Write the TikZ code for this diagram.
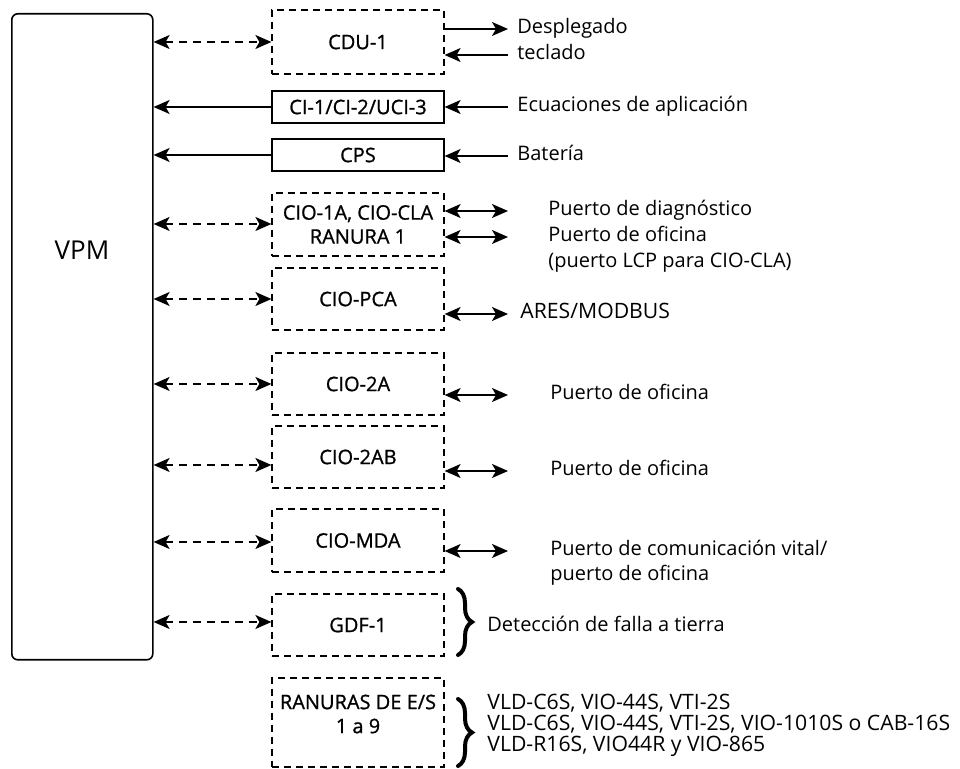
\documentclass[tikz,border=0pt]{standalone}
\usepackage{fontspec}
\setmainfont{Open Sans}
\newfontfamily\boxfont{Open Sans}[FakeBold=1]
\usetikzlibrary{arrows.meta,decorations.pathreplacing}
\tikzset{
  card/.style={draw,line width=0.6pt,minimum width=86pt,inner sep=0pt,align=center,font=\boxfont},
  dcard/.style={card,dash pattern=on 3.5pt off 2.5pt},
  tipx/.tip={Stealth[length=8pt,width=7pt,inset=2pt]},
  link/.style={line width=0.75pt,-tipx},
  blink/.style={line width=0.75pt,tipx-tipx},
  dlink/.style={blink,dash pattern=on 4pt off 3pt},
  txt/.style={anchor=west,inner sep=0pt,text height=7.5pt,text depth=2.5pt},
  caps/.style={txt,font=\fontsize{10.6}{12}\selectfont},
  curly/.style={decorate,decoration={brace,amplitude=7pt},line width=2pt,line cap=round}
}
\begin{document}
\begin{tikzpicture}[x=0.5pt,y=-0.5pt]
\useasboundingbox (0,0) rectangle (960,769);
% coordinates
\coordinate (tip) at (508,0);%
% main unit
\node[draw,line width=0.8pt,rounded corners=3pt,minimum width=70.5pt,minimum height=323pt,anchor=north west] (vpm) at (11,13) {};
\node[font=\fontsize{13}{15}\selectfont] (vpmtxt) at (82,250) {VPM};
% boards
\node[dcard,minimum height=32pt]   (cdu) at (358,42)    {CDU-1};
\node[card,minimum height=16pt]    (ci)  at (358,107)   {CI-1/CI-2/UCI-3};
\node[card,minimum height=16pt]    (cps) at (358,155)   {CPS};
\node[dcard,minimum height=31.5pt] (cla) at (358,224.5) {CIO-1A, CIO-CLA\\RANURA 1};
\node[dcard,minimum height=31pt]   (pca) at (358,299)   {CIO-PCA};
\node[dcard,minimum height=31pt]   (c2a) at (358,384)   {CIO-2A};
\node[dcard,minimum height=31pt]   (c2b) at (358,457)   {CIO-2AB};
\node[dcard,minimum height=31.5pt] (mda) at (358,540.5) {CIO-MDA};
\node[dcard,minimum height=31pt]   (gdf) at (358,625)   {GDF-1};
\node[dcard,minimum height=44.5pt] (ran) at (358,722.5) {};
\node[font=\boxfont,align=center] (rantxt) at (358,714) {RANURAS DE E/S\\1 a 9};
% texts
\node[txt] (dsp)  at (517,29)  {Desplegado};
\node[txt] (tec)  at (517,55)  {teclado};
\node[txt] (ecu)  at (517,107) {Ecuaciones de aplicación};
\node[txt] (bat)  at (517,156) {Batería};
\node[txt] (diag) at (548,211) {Puerto de diagnóstico};
\node[txt] (ofi1) at (548,237) {Puerto de oficina};
\node[txt] (lcp)  at (548,263) {(puerto LCP para CIO-CLA)};
\node[caps] (ares) at (520,314) {ARES/MODBUS};
\node[txt] (ofi2) at (550,395) {Puerto de oficina};
\node[txt] (ofi3) at (550,471) {Puerto de oficina};
\node[txt] (com1) at (550,551) {Puerto de comunicación vital/};
\node[txt] (com2) at (550,576) {puerto de oficina};
\node[txt] (gnd)  at (487,627) {Detección de falla a tierra};
\node[caps] (vld1) at (487,705) {VLD-C6S, VIO-44S, VTI-2S};
\node[caps] (vld2) at (487,726) {VLD-C6S, VIO-44S, VTI-2S, VIO-1010S o CAB-16S};
\node[caps] (vld3) at (487,747) {VLD-R16S, VIO44R y VIO-865};
% links to VPM
\draw[dlink] (vpm.east |- cdu.west) -- (cdu.west);
\draw[link]  (ci.west)  -- (vpm.east |- ci.west);
\draw[link]  (cps.west) -- (vpm.east |- cps.west);
\draw[dlink] ([yshift=0.25pt]vpm.east |- cla.west) -- ([yshift=0.25pt]cla.west);
\draw[dlink] (vpm.east |- pca.west) -- (pca.west);
\draw[dlink] (vpm.east |- c2a.west) -- (c2a.west);
\draw[dlink] ([yshift=-4pt]vpm.east |- c2b.west) -- ([yshift=-4pt]c2b.west);
\draw[dlink] ([yshift=-0.75pt]vpm.east |- mda.west) -- ([yshift=-0.75pt]mda.west);
\draw[dlink] ([yshift=1.5pt]vpm.east |- gdf.west) -- ([yshift=1.5pt]gdf.west);
% outside links
\draw[link]  (cdu.east |- dsp.west)  -- (tip |- dsp.west);
\draw[link]  (tip |- tec.west)       -- (cdu.east |- tec.west);
\draw[link]  (tip |- ecu.west)       -- (ci.east |- ecu.west);
\draw[link]  (tip |- bat.west)       -- (cps.east |- bat.west);
\draw[blink] (cla.east |- diag.west) -- (tip |- diag.west);
\draw[blink] (cla.east |- ofi1.west) -- (tip |- ofi1.west);
\draw[blink] (pca.east |- ares.west) -- (tip |- ares.west);
\draw[blink] (c2a.east |- ofi2.west) -- (tip |- ofi2.west);
\draw[blink] (c2b.east |- ofi3.west) -- (tip |- ofi3.west);
\draw[blink] (mda.east |- com1.west) -- (tip |- com1.west);
% braces
\draw[curly] (458,589) -- (458,655);
\draw[curly] (458,699) -- (458,766);
\end{tikzpicture}
\end{document}
